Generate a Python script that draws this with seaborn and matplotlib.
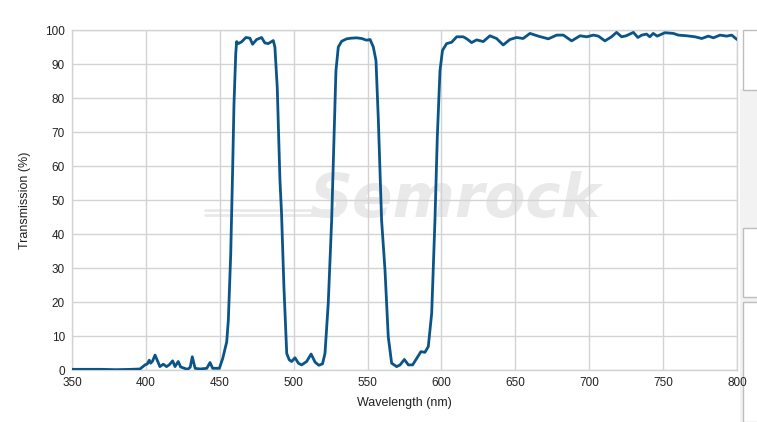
import numpy as np
import pandas as pd
import seaborn as sns
import matplotlib.pyplot as plt
from matplotlib.patches import Rectangle

# transmission spectrum (nm, %)
wavelength = [
    350, 360, 370, 380, 390, 396, 399.4, 401, 402.3, 403.2, 404.5, 406.2, 408, 409.5,
    411.8, 414, 416, 418.1, 419.7, 421.9, 423.5, 425.4, 428.1, 430, 431.4, 433.3,
    436.7, 441.2, 443.4, 445.2, 449.7, 452, 454.7, 455.8, 457.4, 458.7, 459.6,
    460.8, 461.4, 462.5, 464.7, 467.7, 470.4, 472.2, 474.9, 478.3, 480.5, 482.8,
    486.2, 487.3, 488.9, 490.7, 491.8, 493.4, 495.3, 497, 498.6, 500.9, 503.2,
    505.4, 508.8, 511.8, 514.5, 517, 519.5, 521.2, 523.4, 525.7, 527.3, 528.6,
    530.2, 532.5, 535.8, 539, 542.6, 546, 549.4, 551.7, 553.9, 555.7, 557.3,
    559.5, 561.8, 564, 566.3, 569.7, 572, 574.9, 577.6, 580.5, 583.2, 586.1,
    588.8, 591.1, 593.4, 595.6, 597.2, 599, 600.7, 603.5, 606.9, 610.3, 614.8,
    617.5, 620.4, 623.8, 628.3, 632.8, 637.3, 641.8, 646.3, 650.8, 655.3, 659.9,
    665.5, 672.3, 678, 682.5, 688.1, 693.8, 698.3, 702.8, 706.2, 710.6, 715.1,
    718.5, 721.9, 725, 729.9, 732.9, 735.6, 738.8, 741, 743.3, 746, 751.2,
    756.9, 760.3, 766, 771.6, 776.1, 780.6, 784, 788.5, 793, 796.4, 800,
]
transmission = [
    0.2, 0.2, 0.2, 0.1, 0.2, 0.3, 1.5, 1.8, 2.9, 2.0, 2.6, 4.4, 2.5, 1.0,
    1.7, 1.0, 1.6, 2.7, 1.0, 2.5, 0.9, 0.6, 0.2, 0.8, 3.9, 0.5,
    0.3, 0.5, 2.2, 0.5, 0.5, 3.4, 8.3, 14.7, 34, 58.8, 78,
    93, 96.6, 96.0, 96.5, 97.8, 97.6, 95.8, 97.2, 97.8, 96.2, 96.0,
    96.9, 95.0, 83, 56, 46, 24.5, 4.9, 3.0, 2.5, 3.6, 2.0,
    1.5, 2.5, 4.7, 2.3, 1.4, 1.8, 4.9, 19.6, 44, 68.6, 88,
    95, 96.7, 97.4, 97.6, 97.7, 97.5, 97.0, 97.2, 95.0, 91, 73.5,
    44, 29.4, 9.8, 2.0, 1.0, 1.5, 3.1, 1.5, 1.5, 3.4, 5.4,
    5.2, 6.9, 16.7, 44, 68.6, 88, 94, 96, 96.4, 98, 98,
    97.3, 96.3, 97.1, 96.6, 98.3, 97.5, 95.6, 97.2, 97.8, 97.5, 99,
    98.2, 97.4, 98.5, 98.5, 96.8, 98.3, 98, 98.5, 98.2, 96.8, 98,
    99.3, 98, 98.3, 99.3, 97.8, 98.5, 98.8, 98, 99, 98.2, 99.2,
    99, 98.5, 98.3, 98, 97.5, 98.2, 97.7, 98.5, 98.2, 98.5, 97.2,
]

x_ticks = list(range(350, 801, 50))
y_ticks = list(range(0, 101, 10))

df = pd.DataFrame({"wavelength": wavelength, "transmission": transmission})

sns.set_theme(style="whitegrid")
plt.rcParams["font.family"] = ["Liberation Sans", "DejaVu Sans"]

fig = plt.figure(figsize=(7.57, 4.22), dpi=100)
fig.patch.set_facecolor("white")

# grey side panel with empty boxes, as in the reference (behind the axes)
fig.patches.append(Rectangle((0.978, 0.0), 0.03, 0.79, transform=fig.transFigure,
                             facecolor="#f2f2f2", edgecolor="none", zorder=-2))
for y0, h in [(0.787, 0.142), (0.296, 0.164), (0.0, 0.284)]:
    fig.patches.append(Rectangle((0.981, y0), 0.03, h, transform=fig.transFigure,
                                 facecolor="white", edgecolor="#bdbdbd", lw=1, zorder=-1))

ax = fig.add_axes([0.0951, 0.1232, 0.8785, 0.8057])
ax.set_facecolor("white")

# watermark
ax.text(0.575, 0.50, "Semrock", transform=ax.transAxes, fontsize=43, fontweight="bold",
        fontstyle="italic", color="#e9e9e9", ha="center", va="center", zorder=0,
        family="DejaVu Sans")
ax.plot([0.2, 0.40], [0.47, 0.47], transform=ax.transAxes, color="#e9e9e9", lw=2, zorder=0)
ax.plot([0.2, 0.40], [0.455, 0.455], transform=ax.transAxes, color="#e9e9e9", lw=2, zorder=0)

sns.lineplot(data=df, x="wavelength", y="transmission", ax=ax, color="#0b5488",
             linewidth=2, zorder=3)

ax.set_xlim(350, 800)
ax.set_ylim(0, 100)
ax.set_xticks(x_ticks)
ax.set_yticks(y_ticks)
ax.grid(True, color="#d3d3d3", linewidth=1)
for s in ax.spines.values():
    s.set_color("#d3d3d3")
    s.set_linewidth(1)
ax.tick_params(axis="both", length=0, labelsize=8.5, labelcolor="#222222", pad=5)
ax.set_xlabel("Wavelength (nm)", fontsize=9, color="#222222", labelpad=6)
ax.set_ylabel("Transmission (%)", fontsize=9, color="#222222", labelpad=10)

fig.savefig("out.png", dpi=100)
